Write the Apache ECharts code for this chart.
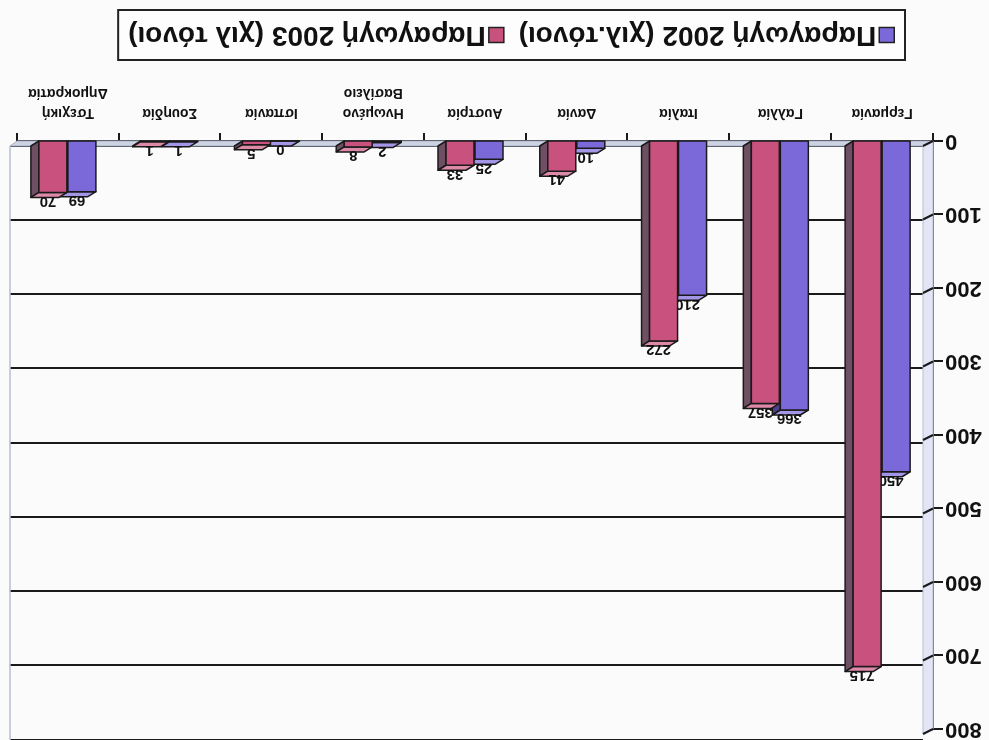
<!DOCTYPE html>
<html>
<head>
<meta charset="utf-8">
<script src="https://cdn.jsdelivr.net/npm/echarts@6/dist/echarts.min.js"></script>
<style>
  html, body { margin: 0; padding: 0; background: #fbfbfb; }
  #chart { width: 989px; height: 740px; transform: rotate(180deg); }
</style>
</head>
<body>
<div id="chart"></div>
<script>
// Production by country, thousand tonnes
const categories = ['Γερμανία', 'Γαλλία', 'Ιταλία', 'Δανία', 'Αυστρία', 'Ηνωμένο\nΒασίλειο', 'Ισπανία', 'Σουηδία', 'Τσεχική\nΔημοκρατία'];
const prod2002 = [450, 366, 210, 10, 25, 2, 0, 1, 69];
const prod2003 = [715, 357, 272, 41, 33, 8, 5, 1, 70];
const seriesNames = ['Παραγωγή 2002 (χιλ.τόνοι)', 'Παραγωγή 2003 (χιλ τόνοι)'];
const yTicks = [0, 100, 200, 300, 400, 500, 600, 700, 800];

const FONT = '"Liberation Sans", Arial, sans-serif';
const DX = 8, DY = 5;       // bar depth offset
const WDX = 10, WDY = 5;    // wall depth offset

const palette = [
  { front: '#7b69d9', side: '#4e3f8c', top: '#a396e6' },
  { front: '#c9517e', side: '#6f4f63', top: '#dc8aa8' }
];

function barRenderer(sIdx) {
  const col = palette[sIdx];
  return function (params, api) {
    const i = api.value(0), v = api.value(1);
    const base = api.coord([i, 0]);
    const top = api.coord([i, v]);
    const c = base[0];
    const w = 28;
    const x0 = sIdx === 0 ? c - 28 : c + 1;
    const x1 = x0 + w;
    const yb = base[1], yt = top[1];
    const stroke = { stroke: '#1a1a1a', lineWidth: 1.5, lineJoin: 'round' };
    return {
      type: 'group',
      children: [
        { type: 'polygon', shape: { points: [[x1, yt], [x1 + DX, yt - DY], [x1 + DX, yb - DY], [x1, yb]] },
          style: Object.assign({ fill: col.side }, stroke) },
        { type: 'polygon', shape: { points: [[x0, yt], [x0 + DX, yt - DY], [x1 + DX, yt - DY], [x1, yt]] },
          style: Object.assign({ fill: col.top }, stroke) },
        { type: 'rect', shape: { x: x0, y: yt, width: w, height: yb - yt },
          style: Object.assign({ fill: col.front }, stroke) },
        { type: 'text', z2: 10,
          style: { text: String(v), x: (x0 + x1) / 2 + 5, y: yt - 1, align: 'center', verticalAlign: 'bottom',
                   font: 'bold 15px ' + FONT, fill: '#111' } }
      ]
    };
  };
}

// Side wall, floor and the links from axis ticks to the back-wall gridlines
function wallRenderer(params, api) {
  const cs = params.coordSys;
  const v = api.value(0);
  const y = api.coord([0, v])[1];
  const children = [];
  if (params.dataIndex === 0) {
    const yb = cs.y + cs.height, yt = cs.y;
    const xl = cs.x, xr = cs.x + cs.width;
    children.push(
      { type: 'polygon', shape: { points: [[xl, yb], [xl + WDX, yb - WDY], [xl + WDX, yt - WDY], [xl, yt]] },
        style: { fill: '#e2e5f4', stroke: '#b9bfd8', lineWidth: 1 } },
      { type: 'polygon', shape: { points: [[xl, yb], [xl + WDX, yb - WDY], [xr + 7, yb - WDY], [xr, yb]] },
        style: { fill: '#cdd3e2', stroke: '#a9b0c6', lineWidth: 1 } },
      { type: 'line', shape: { x1: xr + 7, y1: yb - WDY, x2: xr + 7, y2: 0 },
        style: { stroke: '#b8bfd3', lineWidth: 1.5 } }
    );
  }
  children.push({ type: 'line', shape: { x1: cs.x, y1: y, x2: cs.x + WDX, y2: y - WDY },
    style: { stroke: '#1a1a1a', lineWidth: 2 } });
  return { type: 'group', children: children };
}

const chart = echarts.init(document.getElementById('chart'));
chart.setOption({
  backgroundColor: '#fbfbfb',
  animation: false,
  textStyle: { fontFamily: FONT },
  legend: {
    data: seriesNames,
    left: 84, top: 680,
    padding: [11, 10, 11, 10],
    itemGap: 14,
    itemWidth: 15, itemHeight: 15,
    icon: 'rect',
    borderColor: '#222', borderWidth: 2,
    backgroundColor: '#fdfdfd',
    itemStyle: { borderColor: '#222', borderWidth: 1.5 },
    textStyle: { fontSize: 28, fontWeight: 'bold', color: '#111', fontFamily: FONT, padding: [0, 0, 0, -2] }
  },
  grid: [
    { left: 56, right: 17, top: 5, bottom: 141 },
    { left: 56 + WDX, right: 10, top: 5 - WDY, bottom: 141 + WDY }
  ],
  xAxis: [
    { type: 'category', gridIndex: 0, data: categories,
      axisLine: { lineStyle: { color: '#1a1a1a', width: 2 } },
      axisTick: { show: true, length: 8, lineStyle: { color: '#1a1a1a', width: 2 } },
      axisLabel: { interval: 0, margin: 18, fontSize: 14, fontWeight: 'bold', color: '#111', lineHeight: 20 } },
    { type: 'category', gridIndex: 1, data: categories, show: false }
  ],
  yAxis: [
    { type: 'value', gridIndex: 0, min: 0, max: 800, interval: 100,
      axisLine: { show: true, lineStyle: { color: '#1a1a1a', width: 2.5 } },
      axisTick: { show: true, length: 10, lineStyle: { color: '#1a1a1a', width: 2 } },
      axisLabel: { fontSize: 22, fontWeight: 'bold', color: '#111', margin: 12 },
      splitLine: { show: false } },
    { type: 'value', gridIndex: 1, min: 0, max: 800, interval: 100,
      axisLine: { show: false }, axisTick: { show: false }, axisLabel: { show: false },
      splitLine: { show: true, lineStyle: { color: '#1a1a1a', width: 2 } } }
  ],
  series: [
    { type: 'custom', name: 'wall', xAxisIndex: 0, yAxisIndex: 0, z: 1,
      data: yTicks.map(v => [v]), encode: { y: 0 }, renderItem: wallRenderer, silent: true },
    { type: 'custom', name: seriesNames[0], xAxisIndex: 0, yAxisIndex: 0, z: 3,
      itemStyle: { color: palette[0].front },
      data: prod2002.map((v, i) => [i, v]), encode: { x: 0, y: 1 }, renderItem: barRenderer(0) },
    { type: 'custom', name: seriesNames[1], xAxisIndex: 0, yAxisIndex: 0, z: 4,
      itemStyle: { color: palette[1].front },
      data: prod2003.map((v, i) => [i, v]), encode: { x: 0, y: 1 }, renderItem: barRenderer(1) }
  ]
});
</script>
</body>
</html>
